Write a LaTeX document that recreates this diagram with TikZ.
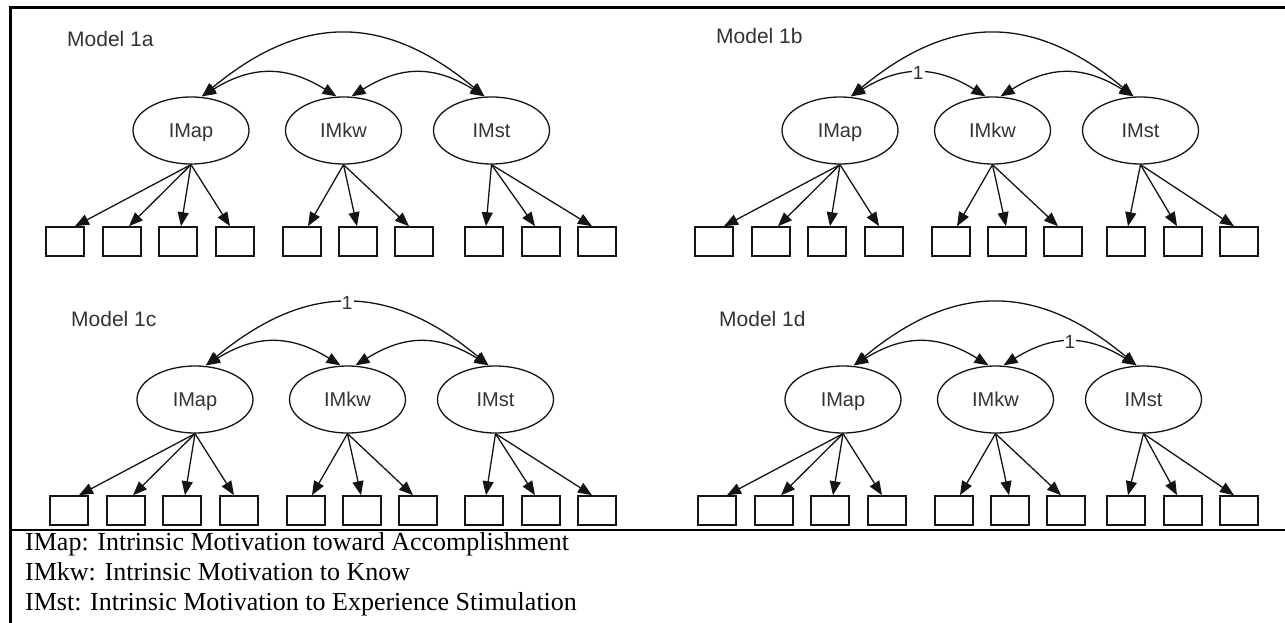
\documentclass[tikz,border=0pt]{standalone}
\usepackage{fontspec}
\setmainfont{Liberation Serif}
\newfontfamily\arialf{Liberation Sans}
\usetikzlibrary{arrows.meta,shapes.geometric,calc}
\definecolor{lblgray}{HTML}{333333}
\definecolor{linegray}{HTML}{141414}
\tikzset{
  lat/.style={ellipse, draw=linegray, line width=1.3pt, minimum width=116pt, minimum height=67pt,
    inner sep=0pt, font=\arialf\fontsize{20}{24}\selectfont, text=lblgray, text height=14.3pt, text depth=0pt},
  ind/.style={rectangle, draw=linegray, line width=1.6pt, minimum width=38pt, minimum height=29pt, inner sep=0pt},
  load/.style={draw=linegray, line width=1.3pt, -{Triangle[length=14pt,width=11pt]}},
  cov/.style={draw=linegray, line width=1.3pt, {Triangle[length=14pt,width=11pt]}-{Triangle[length=14pt,width=11pt]}},
  ttl/.style={font=\arialf\fontsize{21}{25}\selectfont, text=lblgray, anchor=base west, inner sep=0pt},
  one/.style={font=\arialf\fontsize{19}{22}\selectfont, text=lblgray, fill=white, inner sep=1pt},
  leg/.style={font=\fontsize{26}{30}\selectfont, anchor=base west, inner sep=0pt},
  frameline/.style={line width=2.5pt, draw=black},
}
% #1 prefix, #2 ox, #3 oy, #4 shift of third group, #5 title, #6 title y, #7 big-arc label, #8 ap-kw label, #9 kw-st label
\newcommand{\mdl}[9]{%
\begin{scope}[shift={(#2,#3)}]
  \node[ttl] (#1-t) at (67,#6) {#5};
  \node[lat] (#1-ap) at (191,130.5) {IMap};
  \node[lat] (#1-kw) at (343.5,130.5) {IMkw};
  \node[lat] (#1-st) at (491.5,130.5) {IMst};
  \foreach \i/\x in {1/65,2/122,3/178,4/235,5/302,6/358,7/414}
    \node[ind] (#1-b\i) at (\x,241.5) {};
  \foreach \i/\x in {8/484,9/541,10/597}
    \node[ind] (#1-b\i) at (\x+#4,241.5) {};
  \foreach \b/\d in {1/10,2/7,3/3,4/-5}
    \draw[load] (#1-ap.south) -- ([xshift=\d]#1-b\b.north);
  \foreach \b/\d in {5/6,6/-1,7/-5}
    \draw[load] (#1-kw.south) -- ([xshift=\d]#1-b\b.north);
  \foreach \b/\d in {8/2,9/-6,10/-5}
    \draw[load] (#1-st.south) -- ([xshift=\d]#1-b\b.north);
  \coordinate (#1-apT) at ([xshift=11]#1-ap.north);
  \coordinate (#1-kwL) at ([xshift=-7]#1-kw.north);
  \coordinate (#1-kwR) at ([xshift=8]#1-kw.north);
  \coordinate (#1-stT) at ([xshift=-7]#1-st.north);
  \draw[cov] (#1-apT) .. controls +(100,-83) and +(-100,-83) .. (#1-stT) #7;
  \draw[cov] (#1-apT) .. controls +(50,-31) and +(-50,-31) .. (#1-kwL) #8;
  \draw[cov] (#1-kwR) .. controls +(50,-31) and +(-50,-31) .. (#1-stT) #9;
\end{scope}}
\begin{document}
\begin{tikzpicture}[x=1pt,y=-1pt]
  \useasboundingbox (0,0) rectangle (1285,623);
  \fill[white] (0,0) rectangle (1285,623);
  \draw[frameline] (10.5,623) -- (10.5,7.5) -- (1285,7.5);
  \draw[frameline] (10.5,530) -- (1285,530);
  \mdl{a}{0}{0}{0}{Model 1a}{47}{}{}{}
  \mdl{b}{649}{0}{-7}{Model 1b}{44}{}{node[one,pos=0.5]{1}}{}
  \mdl{c}{4}{269}{-4}{Model 1c}{57}{node[one,pos=0.5]{1}}{}{}
  \mdl{d}{652}{269}{-10}{Model 1d}{57}{}{}{node[one,pos=0.5]{1}}
  \node[leg] (leg1) at (25,550) {IMap: Intrinsic Motivation toward Accomplishment};
  \node[leg] (leg2) at (25,580) {IMkw: Intrinsic Motivation to Know};
  \node[leg] (leg3) at (25,610) {IMst: Intrinsic Motivation to Experience Stimulation};
\end{tikzpicture}
\end{document}
